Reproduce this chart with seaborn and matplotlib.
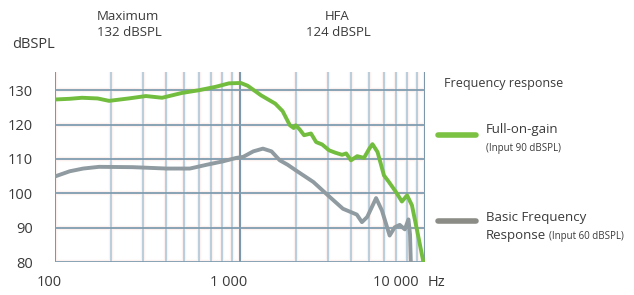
import numpy as np
import pandas as pd
import matplotlib
matplotlib.use("Agg")
import matplotlib.pyplot as plt
import seaborn as sns

# Full-on-gain (Input 90 dBSPL)
fog_freq = [100, 120, 140, 170, 196, 250, 310, 379, 485, 600, 740, 872, 1010, 1100,
            1300, 1550, 1700, 1860, 1950, 2000, 2100, 2220, 2420, 2580, 2780, 3030,
            3280, 3560, 3750, 3980, 4300, 4680, 5000, 5200, 5540, 6000, 6380, 6960,
            7500, 8000, 8500, 9100, 9800]
fog_db = [127.3, 127.5, 127.8, 127.6, 126.9, 127.6, 128.3, 127.8, 129.2, 130.0, 131.0,
          132.0, 132.1, 131.3, 128.5, 126.1, 123.9, 119.8, 119.0, 119.8, 118.6, 116.9,
          117.4, 114.9, 114.2, 112.5, 111.8, 111.2, 111.6, 109.6, 110.8, 110.3, 113.0,
          114.3, 112.0, 105.2, 103.3, 100.4, 97.6, 99.4, 96.5, 88.7, 80.0]

# Basic Frequency Response (Input 60 dBSPL)
bfr_freq = [100, 120, 142, 173, 264, 400, 536, 660, 810, 955, 1040, 1180, 1330, 1480,
            1640, 1810, 2000, 2490, 3060, 3600, 4280, 4560, 4870, 5440, 5850, 6440,
            6860, 7300, 7780, 8140, 8300, 8400]
bfr_db = [104.9, 106.4, 107.2, 107.7, 107.6, 107.2, 107.2, 108.3, 109.3, 110.3, 110.6,
          112.2, 113.0, 112.2, 109.6, 108.3, 106.7, 103.3, 98.9, 95.5, 93.8, 91.6, 93.1,
          98.6, 95.0, 87.7, 90.1, 90.8, 89.5, 92.4, 88.0, 78.0]

y_ticks = [80, 90, 100, 110, 120, 130]
x_tick_vals = [100, 1000, 10000]
x_tick_labels = ["100", "1 000", "10 000"]

sns.set_theme(style="white")
plt.rcParams["font.family"] = ["Open Sans", "DejaVu Sans"]

fig = plt.figure(figsize=(6.34, 2.95), dpi=100)
ax = fig.add_axes([55 / 634, 1 - 262 / 295, 370 / 634, 190 / 295])

df_fog = pd.DataFrame({"f": fog_freq, "db": fog_db})
df_bfr = pd.DataFrame({"f": bfr_freq, "db": bfr_db})

green = "#72bd3e"
grey_line = "#8f9ba0"
halo = "#fcf1ee"

ax.set_xscale("log")
ax.set_xlim(100, 10000)
ax.set_ylim(80, 135.3)

# grid
minor_x = [m * d for d in (100, 1000) for m in range(2, 10)]
for xv in minor_x:
    ax.axvline(xv, color=halo, lw=3.0, zorder=0)
    ax.axvline(xv, color="#a6c4d6", lw=1.1, zorder=1)
for xv in (100, 1000, 10000):
    ax.axvline(xv, color=halo, lw=3.0, zorder=0)
    ax.axvline(xv, color="#6f8ea2", lw=1.3, zorder=1)
for yv in y_ticks:
    ax.axhline(yv, color=halo, lw=3.2, zorder=0)
    ax.axhline(yv, color="#7f9db0", lw=1.3, zorder=1)

sns.lineplot(data=df_bfr, x="f", y="db", ax=ax, color=grey_line, lw=2.8,
             estimator=None, sort=False, zorder=3)
sns.lineplot(data=df_fog, x="f", y="db", ax=ax, color=green, lw=2.8,
             estimator=None, sort=False, zorder=4)

for s in ax.spines.values():
    s.set_visible(False)
ax.set_xlabel("")
ax.set_ylabel("")
ax.set_yticks(y_ticks)
ax.set_yticklabels([str(v) for v in y_ticks], fontsize=10.5, color="#3a3a3a")
ax.tick_params(axis="y", length=0, pad=16)
ax.set_xticks([])
ax.minorticks_off()

tc = "#3a3a3a"
# x tick labels (placed as in reference)
xtr = ax.get_xaxis_transform()
label_pos = [92.8, 872, 6970]
for xv, lab in zip(label_pos, x_tick_labels):
    ax.text(xv, -21 / 190, lab, transform=xtr, ha="center", va="center",
            fontsize=10.5, color=tc, clip_on=False)
fig.text(428 / 634, 1 - 283 / 295, "Hz", ha="left", va="center", fontsize=10.5, color=tc)

# top annotations
fig.text(12 / 634, 1 - 44 / 295, "dBSPL", fontsize=10.5, color=tc, va="center")
fig.text(128 / 634, 1 - 16 / 295, "Maximum", fontsize=9.5, color=tc, ha="center", va="center")
fig.text(129 / 634, 1 - 33 / 295, "132 dBSPL", fontsize=9.5, color=tc, ha="center", va="center")
fig.text(337 / 634, 1 - 16 / 295, "HFA", fontsize=9.5, color=tc, ha="center", va="center")
fig.text(338 / 634, 1 - 33 / 295, "124 dBSPL", fontsize=9.5, color=tc, ha="center", va="center")

# legend
fig.text(444 / 634, 1 - 83 / 295, "Frequency response", fontsize=9, color=tc, va="center")
fig.add_artist(plt.Line2D([438 / 634, 476 / 634], [1 - 135 / 295] * 2, color="#7cc242",
                          lw=4, transform=fig.transFigure))
fig.text(486 / 634, 1 - 129 / 295, "Full-on-gain", fontsize=9.5, color=tc, va="center")
fig.text(486 / 634, 1 - 148 / 295, "(Input 90 dBSPL)", fontsize=7, color=tc, va="center")
fig.add_artist(plt.Line2D([438 / 634, 476 / 634], [1 - 221 / 295] * 2, color="#8c8c86",
                          lw=4, transform=fig.transFigure))
fig.text(486 / 634, 1 - 218 / 295, "Basic Frequency", fontsize=9.5, color=tc, va="center")
t_resp = fig.text(486 / 634, 1 - 236 / 295, "Response", fontsize=9.5, color=tc, va="center")
fig.canvas.draw()
bb = t_resp.get_window_extent()
fig.text((bb.x1 + 3) / 634, 1 - 236 / 295, "(Input 60 dBSPL)", fontsize=7, color=tc,
         va="center")

fig.savefig("out.png", dpi=100)
